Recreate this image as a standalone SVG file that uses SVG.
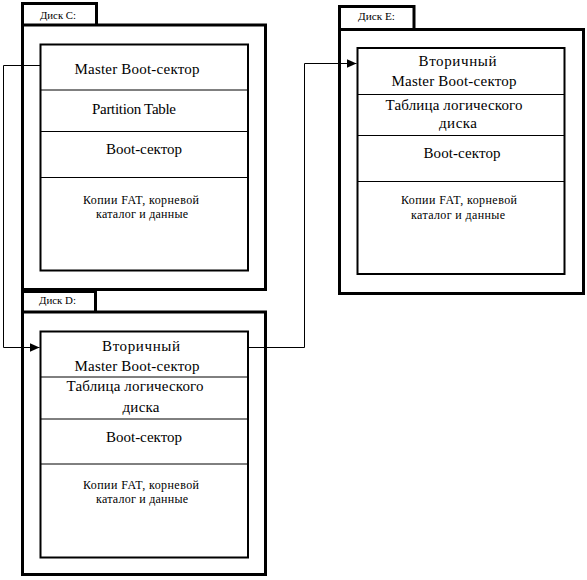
<svg xmlns="http://www.w3.org/2000/svg" width="587" height="580" viewBox="0 0 587 580" font-family="'Liberation Serif', 'Times New Roman', 'DejaVu Serif', serif">
<style>
  .frame{fill:none;stroke:#000;stroke-width:3}
  .inner{fill:none;stroke:#000;stroke-width:2}
  .div{stroke:#000;stroke-width:1}
  .conn{fill:none;stroke:#000;stroke-width:1}
  text{font-family:'Liberation Serif','Times New Roman','DejaVu Serif',serif;fill:#000}
  .big{font-size:15px;text-anchor:middle}
  .small{font-size:12px;text-anchor:middle}
  .tab{font-size:10px}
</style>
<defs>
  <marker id="arr" markerUnits="userSpaceOnUse" markerWidth="11" markerHeight="9" refX="10" refY="4.5" orient="auto">
    <path d="M0,0 L10,4.5 L0,9 Z" fill="#000"/>
  </marker>
</defs>
<rect width="587" height="580" fill="#fff"/>

<g id="disk-c">
  <path class="frame" d="M22.5,25 V3.5 H96.5 V25"/>
  <text class="tab" x="40" y="18.5" textLength="36" lengthAdjust="spacingAndGlyphs">Диск C:</text>
  <rect class="frame" x="22.5" y="25" width="243" height="264.5"/>
  <rect class="inner" x="40.5" y="44.5" width="207.5" height="226"/>
  <line class="div" x1="40.5" y1="90" x2="248" y2="90"/>
  <line class="div" x1="40.5" y1="131.5" x2="248" y2="131.5"/>
  <line class="div" x1="40.5" y1="177.5" x2="248" y2="177.5"/>
  <text class="big" x="137" y="74" textLength="125">Master Boot-сектор</text>
  <text class="big" x="134" y="114" textLength="84">Partition Table</text>
  <text class="big" x="144" y="154" textLength="76">Boot-сектор</text>
  <text class="small" x="141" y="204" textLength="116">Копии FAT, корневой</text>
  <text class="small" x="142" y="218" textLength="92">каталог и данные</text>
</g>

<g id="disk-d">
  <path class="frame" d="M22.5,312 V291.5 H95.5 V312"/>
  <text class="tab" x="39" y="304" textLength="37" lengthAdjust="spacingAndGlyphs">Диск D:</text>
  <rect class="frame" x="22.5" y="312" width="243" height="262.5"/>
  <rect class="inner" x="40.5" y="331.5" width="207.5" height="226"/>
  <line class="div" x1="40.5" y1="377" x2="248" y2="377"/>
  <line class="div" x1="40.5" y1="419" x2="248" y2="419"/>
  <line class="div" x1="40.5" y1="464" x2="248" y2="464"/>
  <text class="big" x="141" y="351" textLength="78">Вторичный</text>
  <text class="big" x="137" y="371" textLength="125">Master Boot-сектор</text>
  <text class="big" x="135" y="391" textLength="137">Таблица логического</text>
  <text class="big" x="141" y="411.5" textLength="37">диска</text>
  <text class="big" x="144" y="441.5" textLength="76">Boot-сектор</text>
  <text class="small" x="141" y="489" textLength="116">Копии FAT, корневой</text>
  <text class="small" x="142" y="503" textLength="92">каталог и данные</text>
</g>

<g id="disk-e">
  <path class="frame" d="M339.5,29.5 V6.5 H414 V29.5"/>
  <text class="tab" x="358" y="20" textLength="37" lengthAdjust="spacingAndGlyphs">Диск E:</text>
  <rect class="frame" x="339.5" y="29.5" width="244" height="264"/>
  <rect class="inner" x="357.5" y="48" width="207" height="226"/>
  <line class="div" x1="357.5" y1="94.5" x2="564.5" y2="94.5"/>
  <line class="div" x1="357.5" y1="135.5" x2="564.5" y2="135.5"/>
  <line class="div" x1="357.5" y1="181.5" x2="564.5" y2="181.5"/>
  <text class="big" x="457.5" y="66" textLength="78">Вторичный</text>
  <text class="big" x="454" y="86" textLength="125">Master Boot-сектор</text>
  <text class="big" x="454" y="110" textLength="137">Таблица логического</text>
  <text class="big" x="458" y="127.5" textLength="38">диска</text>
  <text class="big" x="462" y="158" textLength="77">Boot-сектор</text>
  <text class="small" x="459" y="204" textLength="116">Копии FAT, корневой</text>
  <text class="small" x="458" y="219" textLength="94">каталог и данные</text>
</g>

<g id="connectors">
  <path class="conn" d="M40,65.5 H3.5 V347.5 H39.5" marker-end="url(#arr)"/>
  <path class="conn" d="M248,347.5 H304.5 V63.5 H356.5" marker-end="url(#arr)"/>
</g>
</svg>
